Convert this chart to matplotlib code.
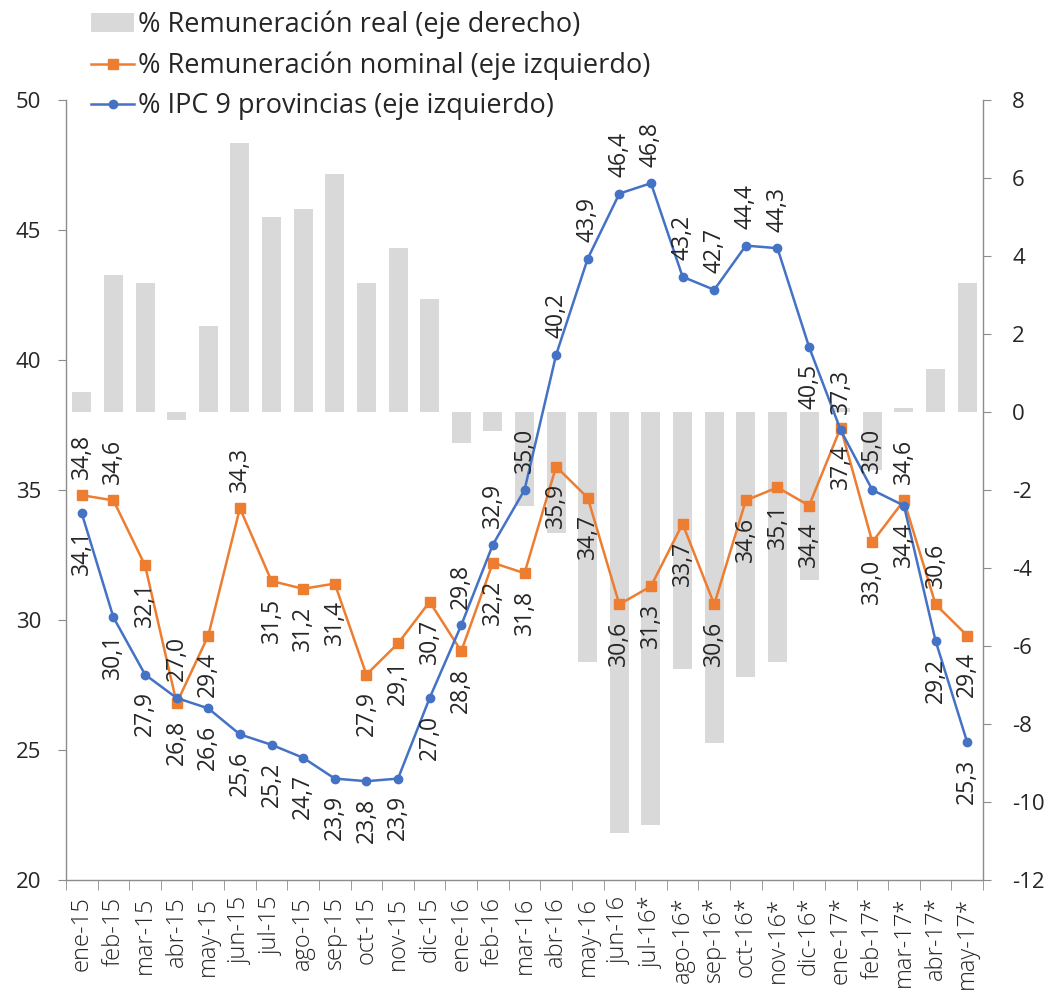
import matplotlib
matplotlib.use("Agg")
import matplotlib.pyplot as plt
import numpy as np
from matplotlib.ticker import FixedLocator

plt.rcParams['font.family'] = ['Open Sans', 'DejaVu Sans']
plt.rcParams['axes.unicode_minus'] = False

categories = ["ene-15", "feb-15", "mar-15", "abr-15", "may-15", "jun-15", "jul-15",
              "ago-15", "sep-15", "oct-15", "nov-15", "dic-15", "ene-16", "feb-16",
              "mar-16", "abr-16", "may-16", "jun-16", "jul-16*", "ago-16*", "sep-16*",
              "oct-16*", "nov-16*", "dic-16*", "ene-17*", "feb-17*", "mar-17*",
              "abr-17*", "may-17*"]

real = [0.5, 3.5, 3.3, -0.2, 2.2, 6.9, 5.0, 5.2, 6.1, 3.3, 4.2, 2.9, -0.8, -0.5,
        -2.4, -3.1, -6.4, -10.8, -10.6, -6.6, -8.5, -6.8, -6.4, -4.3, 0.1, -1.5,
        0.1, 1.1, 3.3]

nominal = [34.8, 34.6, 32.1, 26.8, 29.4, 34.3, 31.5, 31.2, 31.4, 27.9, 29.1, 30.7,
           28.8, 32.2, 31.8, 35.9, 34.7, 30.6, 31.3, 33.7, 30.6, 34.6, 35.1, 34.4,
           37.4, 33.0, 34.6, 30.6, 29.4]

ipc = [34.1, 30.1, 27.9, 27.0, 26.6, 25.6, 25.2, 24.7, 23.9, 23.8, 23.9, 27.0,
       29.8, 32.9, 35.0, 40.2, 43.9, 46.4, 46.8, 43.2, 42.7, 44.4, 44.3, 40.5,
       37.3, 35.0, 34.4, 29.2, 25.3]

# label placement (1 = above point, -1 = below point)
nominal_pos = [1, 1, -1, -1, -1, 1, -1, -1, -1, -1, -1, -1, -1, -1, -1, -1, -1, -1,
               -1, -1, -1, -1, -1, -1, -1, -1, 1, 1, -1]
ipc_pos = [-1, -1, -1, 1, -1, -1, -1, -1, -1, -1, -1, -1, 1, 1, 1, 1, 1, 1, 1, 1, 1,
           1, 1, -1, 1, 1, -1, -1, -1]

left_ticks = [20, 25, 30, 35, 40, 45, 50]
right_ticks = [-12, -10, -8, -6, -4, -2, 0, 2, 4, 6, 8]

ORANGE = "#ED7D31"
BLUE = "#4472C4"
BARC = "#D9D9D9"
SPINE = "#8C8C8C"
TXT = "#262626"

W, H = 1048, 994
fig = plt.figure(figsize=(W / 100, H / 100), dpi=100)
ax = fig.add_axes([66 / W, 1 - 880 / H, (983 - 66) / W, (880 - 100) / H])
ax2 = ax.twinx()

x = np.arange(len(categories))

ax2.bar(x, real, width=0.6, color=BARC, zorder=1, label="% Remuneración real (eje derecho)")
ax2.set_ylim(-12, 8)
ax2.set_yticks(right_ticks)
ax2.set_yticklabels([str(t) for t in right_ticks])

ln1, = ax.plot(x, nominal, color=ORANGE, lw=1.8, marker="s", ms=7,
               label="% Remuneración nominal (eje izquierdo)", zorder=3)
ln2, = ax.plot(x, ipc, color=BLUE, lw=1.8, marker="o", ms=6,
               label="% IPC 9 provincias (eje izquierdo)", zorder=4)
ax.set_zorder(ax2.get_zorder() + 1)
ax.patch.set_visible(False)

ax.set_ylim(20, 50)
ax.set_yticks(left_ticks)
ax.set_xlim(-0.5, len(categories) - 0.5)
ax.set_xticks(x)
ax.set_xticklabels(categories, rotation=90)
ax.xaxis.set_minor_locator(FixedLocator(np.arange(len(categories) + 1) - 0.5))

def fmt(v):
    return f"{v:.1f}".replace(".", ",")

for xi, v, p in zip(x, nominal, nominal_pos):
    ax.annotate(fmt(v), (xi, v), xytext=(0, 12 * p), textcoords="offset points",
                rotation=90, ha="center", va="bottom" if p > 0 else "top",
                fontsize=16.5, color=TXT, zorder=6)
for xi, v, p in zip(x, ipc, ipc_pos):
    ax.annotate(fmt(v), (xi, v), xytext=(0, 12 * p), textcoords="offset points",
                rotation=90, ha="center", va="bottom" if p > 0 else "top",
                fontsize=16.5, color=TXT, zorder=6)

for a in (ax, ax2):
    a.spines["top"].set_visible(False)
    for s in ("left", "right", "bottom"):
        a.spines[s].set_color(SPINE)
        a.spines[s].set_linewidth(1.0)
ax.spines["right"].set_visible(False)
ax2.spines["left"].set_visible(False)
ax2.spines["bottom"].set_visible(False)

ax.tick_params(axis="y", direction="out", length=6, color=SPINE, labelsize=16,
               labelcolor=TXT, pad=12)
ax2.tick_params(axis="y", direction="out", length=6, color=SPINE, labelsize=16,
                labelcolor=TXT, pad=15)
ax.tick_params(axis="x", which="major", length=0, labelsize=17, labelcolor=TXT, pad=12)
ax.tick_params(axis="x", which="minor", length=7, direction="out", color=SPINE)
for lbl in ax.get_xticklabels():
    lbl.set_fontweight("light")

handles = [ax2.containers[0], ln1, ln2]
labels = [h.get_label() for h in handles]
fig.legend(handles, labels, loc="upper left", bbox_to_anchor=(80 / W, 1 - 0 / H),
           frameon=False, fontsize=19.5, handlelength=1.6, handletextpad=0.15,
           labelspacing=0.45, borderaxespad=0, labelcolor=TXT)

fig.savefig("out.png", dpi=100)
